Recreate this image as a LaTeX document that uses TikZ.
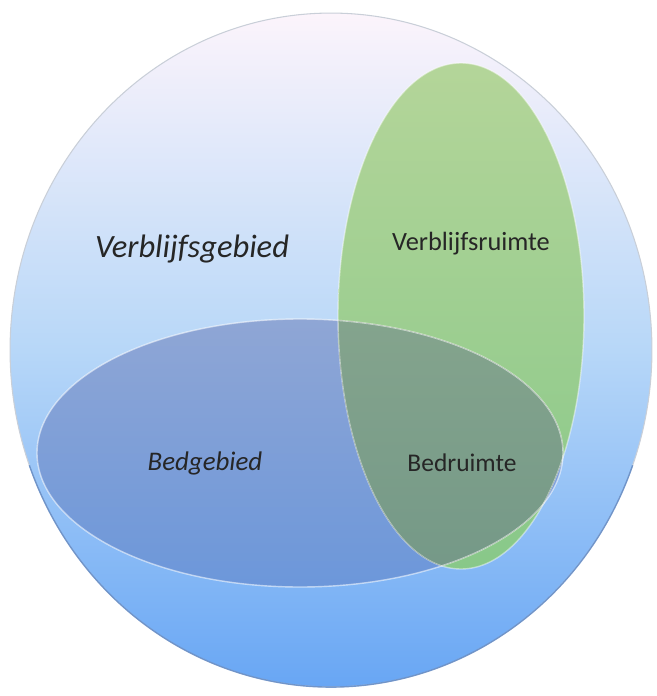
\documentclass[tikz,border=0pt]{standalone}
\usepackage{fontspec}
\setmainfont{Carlito}
\usetikzlibrary{shapes.geometric, positioning}

\definecolor{gebiedtop}{HTML}{FCF4FB}
\definecolor{gebiedmid}{HTML}{B7D7F8}
\definecolor{gebiedbot}{HTML}{68A6F4}
\definecolor{gebiededge}{HTML}{C9CFD8}
\definecolor{gebiedshade}{HTML}{4C7CC2}
\definecolor{bedtop}{HTML}{8FA6D5}
\definecolor{bedbot}{HTML}{6C97DA}
\definecolor{ruimtetop}{HTML}{B4D599}
\definecolor{ruimtebot}{HTML}{88C889}
\definecolor{overlaptop}{HTML}{84A48D}
\definecolor{overlapbot}{HTML}{749887}

\begin{document}
\begin{tikzpicture}[
    x=0.02cm, y=-0.02cm,
    zone/.style={ellipse, inner sep=0pt, line width=0.6pt},
    zonetext/.style={text=black!85, inner sep=0pt}
]

    \useasboundingbox (0,0) rectangle (656,696);

    \node[zone, minimum width=12.84cm, minimum height=13.48cm,
          top color=gebiedtop, bottom color=gebiedbot, middle color=gebiedmid,
          draw=gebiededge] (gebied) at (331,350) {};
    \draw[gebiedshade, line width=0.8pt, opacity=0.7]
        (gebied.center) ++(20:321 and 337) arc [start angle=20, end angle=160, x radius=321, y radius=337];
    \node[zone, minimum width=10.52cm, minimum height=5.36cm,
          top color=bedtop, bottom color=bedbot] (bed) at (300,453) {};
    \node[zone, minimum width=4.92cm, minimum height=10.12cm,
          top color=ruimtetop, bottom color=ruimtebot] (ruimte) at (461,316) {};

    \begin{scope}
        \clip (ruimte.center) ellipse [x radius=123, y radius=253];
        \fill[top color=overlaptop, bottom color=overlapbot]
            (bed.center) ellipse [x radius=263, y radius=134];
    \end{scope}

    \draw[white, opacity=0.55, line width=0.8pt] (bed.center) ellipse [x radius=263, y radius=134];
    \draw[white, opacity=0.45, line width=0.8pt] (ruimte.center) ellipse [x radius=123, y radius=253];

    \node[zonetext, font=\fontsize{18.5}{20}\selectfont\itshape] (gebiedtext) at (192,249) {Verblijfsgebied};
    \node[zonetext, font=\fontsize{15}{17}\selectfont] (ruimtetext) at (471,244) {Verblijfsruimte};
    \node[zonetext, font=\fontsize{15.3}{17}\selectfont\itshape] (bedtext) at (205,463) {Bedgebied};
    \node[zonetext, font=\fontsize{14.5}{16}\selectfont] (bedruimtetext) at (462,463) {Bedruimte};

\end{tikzpicture}
\end{document}
